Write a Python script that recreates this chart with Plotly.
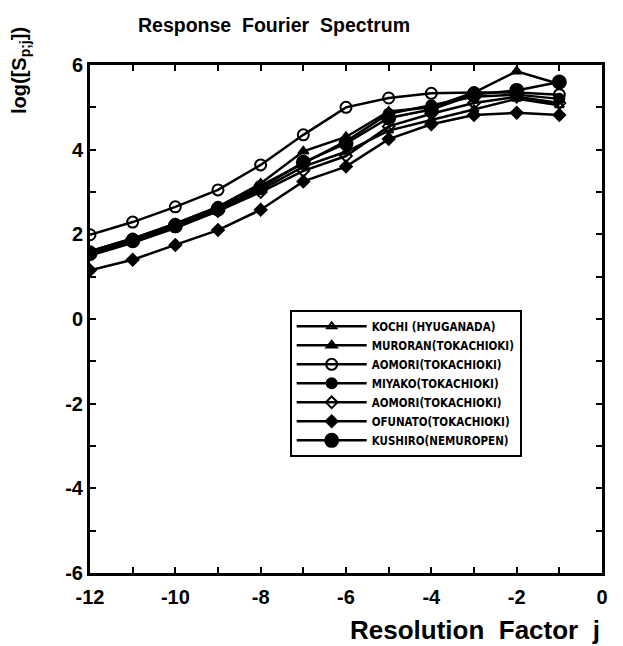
import plotly.graph_objects as go

j = [-12, -11, -10, -9, -8, -7, -6, -5, -4, -3, -2, -1]

kochi_hyuganada = [1.50, 1.80, 2.15, 2.55, 3.05, 3.60, 3.95, 4.45, 4.70, 4.95, 5.20, 5.05]
muroran_tokachioki = [1.60, 1.90, 2.25, 2.65, 3.20, 3.96, 4.30, 4.90, 5.00, 5.35, 5.85, 5.55]
aomori_open_circle = [1.99, 2.29, 2.65, 3.05, 3.64, 4.35, 5.00, 5.22, 5.33, 5.35, 5.35, 5.30]
miyako_tokachioki = [1.60, 1.90, 2.25, 2.65, 3.15, 3.68, 4.20, 4.85, 5.05, 5.25, 5.30, 5.20]
aomori_open_diamond = [1.55, 1.85, 2.20, 2.55, 3.00, 3.50, 3.85, 4.55, 4.85, 5.10, 5.25, 5.10]
ofunato_tokachioki = [1.15, 1.40, 1.75, 2.10, 2.58, 3.25, 3.60, 4.25, 4.60, 4.82, 4.87, 4.82]
kushiro_nemuropen = [1.55, 1.85, 2.20, 2.60, 3.10, 3.70, 4.15, 4.75, 4.95, 5.30, 5.40, 5.60]

names = ["KOCHI (HYUGANADA)", "MURORAN(TOKACHIOKI)", "AOMORI(TOKACHIOKI)",
         "MIYAKO(TOKACHIOKI)", "AOMORI(TOKACHIOKI)", "OFUNATO(TOKACHIOKI)",
         "KUSHIRO(NEMUROPEN)"]
series = [kochi_hyuganada, muroran_tokachioki, aomori_open_circle, miyako_tokachioki,
          aomori_open_diamond, ofunato_tokachioki, kushiro_nemuropen]
symbols = ["triangle-up-open", "triangle-up", "circle-open", "circle",
           "diamond-open", "diamond", "circle"]
sizes = [8, 9, 11, 10, 9, 9, 13]

x_tickvals = [-12, -10, -8, -6, -4, -2, 0]
x_ticktext = ["-12", "-10", "-8", "-6", "-4", "-2", "0"]
y_tickvals = [-6, -4, -2, 0, 2, 4, 6]
y_ticktext = ["-6", "-4", "-2", "0", "2", "4", "6"]

fig = go.Figure()
for name, ys, sym, sz in zip(names, series, symbols, sizes):
    fig.add_trace(go.Scatter(
        x=j, y=ys, name=name, mode="lines+markers",
        line=dict(color="black", width=2.5),
        marker=dict(symbol=sym, size=sz, color="black",
                    line=dict(color="black", width=2)),
    ))

axis_font = dict(family="Liberation Sans", size=20, color="black", weight="bold")
minor = dict(dtick=1, ticks="inside", ticklen=6, tickwidth=2, tickcolor="black", showgrid=False)
fig.update_layout(
    width=623, height=646,
    margin=dict(l=90, r=21, t=65, b=73),
    paper_bgcolor="white", plot_bgcolor="white",
    showlegend=True,
    legend=dict(
        x=0.39, y=0.518, xanchor="left", yanchor="top",
        bgcolor="white", bordercolor="black", borderwidth=2,
        font=dict(family="DejaVu Sans Condensed", size=11.5, color="black", weight="bold"),
        tracegroupgap=0, itemwidth=70,
    ),
    xaxis=dict(
        range=[-12, 0], tickvals=x_tickvals, ticktext=x_ticktext, minor=minor,
        ticks="inside", ticklen=6, tickwidth=2, tickcolor="black",
        showline=True, linecolor="black", linewidth=3, mirror="allticks",
        showgrid=False, zeroline=False, tickfont=axis_font, ticklabelstandoff=4,
    ),
    yaxis=dict(
        range=[-6, 6], tickvals=y_tickvals, ticktext=y_ticktext, minor=minor,
        ticks="inside", ticklen=6, tickwidth=2, tickcolor="black",
        showline=True, linecolor="black", linewidth=3, mirror="allticks",
        showgrid=False, zeroline=False, tickfont=axis_font,
    ),
    annotations=[
        dict(text="Response  Fourier  Spectrum", x=0.36, y=1.0, xref="paper", yref="paper",
             xanchor="center", yanchor="bottom", yshift=27, showarrow=False,
             font=dict(family="Liberation Sans", size=19.5, color="black", weight="bold")),
        dict(text="log([S<sub>p;j</sub>])", x=0, y=1.0, xref="paper", yref="paper",
             xanchor="right", yanchor="top", xshift=-55, yshift=40, textangle=-90,
             showarrow=False,
             font=dict(family="Liberation Sans", size=20, color="black", weight="bold")),
        dict(text="Resolution  Factor  j", x=1.0, y=0, xref="paper", yref="paper",
             xanchor="right", yanchor="top", yshift=-40, showarrow=False,
             font=dict(family="Liberation Sans", size=26, color="black", weight="bold")),
    ],
)

fig.write_html("out.html")
